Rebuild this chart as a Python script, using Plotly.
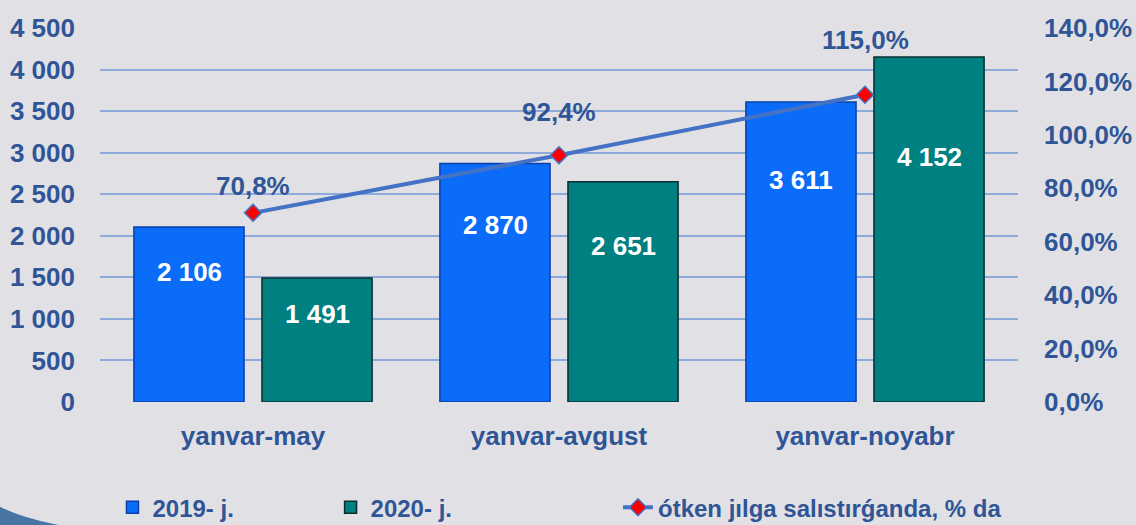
import plotly.graph_objects as go

categories = ["yanvar-may", "yanvar-avgust", "yanvar-noyabr"]
values_2019 = [2106, 2870, 3611]
values_2020 = [1491, 2651, 4152]
growth_pct = [70.8, 92.4, 115.0]
left_ticks = [0, 500, 1000, 1500, 2000, 2500, 3000, 3500, 4000, 4500]
right_ticks = [0, 20, 40, 60, 80, 100, 120, 140]

def fmt_num(v):
    return f"{v:,}".replace(",", " ")

def fmt_pct(v):
    return f"{v:.1f}".replace(".", ",") + "%"

FONT = "Liberation Sans, Arial, sans-serif"
TXT = "#2f5597"
FS = 26

fig = go.Figure()
fig.add_trace(go.Bar(
    x=categories, y=values_2019, name="2019- j.",
    marker=dict(color="#0a6cf8", line=dict(color="#0a3fa8", width=1.5)),
    legend="legend",
))
fig.add_trace(go.Bar(
    x=categories, y=values_2020, name="2020- j.",
    marker=dict(color="#008080", line=dict(color="#0a2e2e", width=1.5)),
    legend="legend2",
))
fig.add_trace(go.Scatter(
    x=categories, y=growth_pct, name="ótken jılga salıstırǵanda, % da",
    yaxis="y2", mode="lines+markers",
    line=dict(color="#4472c4", width=4),
    marker=dict(symbol="diamond", size=13, color="#ff0000", line=dict(color="#4472c4", width=1.5)),
    legend="legend3",
))

annotations = []
for i, c in enumerate(categories):
    annotations.append(dict(x=c, y=values_2019[i] * 0.74, xref="x", yref="y", xshift=-64,
                            text=fmt_num(values_2019[i]), showarrow=False,
                            font=dict(family=FONT, size=FS, color="white", weight="bold")))
    annotations.append(dict(x=c, y=values_2020[i] * 0.71, xref="x", yref="y", xshift=64,
                            text=fmt_num(values_2020[i]), showarrow=False,
                            font=dict(family=FONT, size=FS, color="white", weight="bold")))
for c, p, ys in zip(categories, growth_pct, [27, 43, 55]):
    annotations.append(dict(x=c, y=p, xref="x", yref="y2", yshift=ys,
                            text=fmt_pct(p), showarrow=False,
                            font=dict(family=FONT, size=FS, color=TXT, weight="bold")))

legend_common = dict(orientation="h", xref="container", yref="container", yanchor="middle",
                     xanchor="left", y=0.033, bgcolor="rgba(0,0,0,0)",
                     font=dict(family=FONT, size=24, color=TXT, weight="bold"))

fig.update_layout(
    width=1136, height=525,
    margin=dict(l=100, r=118, t=28, b=123, autoexpand=False),
    paper_bgcolor="#e1e1e5", plot_bgcolor="rgba(0,0,0,0)",
    barmode="group", bargap=0.163, bargroupgap=0.14,
    showlegend=True,
    legend=dict(legend_common, x=0.099),
    legend2=dict(legend_common, x=0.291),
    legend3=dict(legend_common, x=0.544),
    xaxis=dict(tickfont=dict(family=FONT, size=FS, color=TXT, weight="bold"),
               showgrid=False, showline=False, ticks="", ticklabelstandoff=16),
    yaxis=dict(range=[0, 4500], tickvals=left_ticks,
               ticktext=[fmt_num(v) for v in left_ticks],
               tickfont=dict(family=FONT, size=FS, color=TXT, weight="bold"),
               showgrid=True, gridcolor="#8eaadb", gridwidth=2, zeroline=False,
               ticklabelstandoff=24),
    yaxis2=dict(range=[0, 140], tickvals=right_ticks,
                ticktext=[fmt_pct(v) for v in right_ticks],
                overlaying="y", side="right", showgrid=False, zeroline=False,
                tickfont=dict(family=FONT, size=FS, color=TXT, weight="bold"),
                ticklabelstandoff=25),
    annotations=annotations,
    shapes=[dict(type="path", xref="paper", yref="paper",
                 path="M -0.109 -0.329 L -0.045 -0.329 Q -0.085 -0.31 -0.109 -0.28 Z",
                 fillcolor="#1f5a94", line=dict(width=0), opacity=0.8, layer="below")],
)

fig.write_html("out.html", config={"displayModeBar": False},
               post_script="document.body.style.margin='0';document.body.style.background='#e1e1e5';")
